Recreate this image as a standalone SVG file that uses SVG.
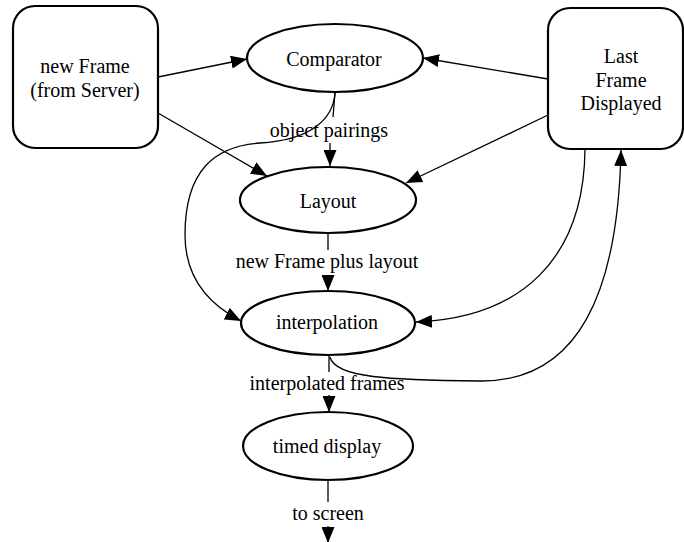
<svg xmlns="http://www.w3.org/2000/svg" width="684" height="542" viewBox="0 0 684 542">
<style>
text{font-family:"Liberation Serif","Times New Roman",serif;font-size:20px;fill:#000;text-anchor:middle}
.n{fill:#fff;stroke:#000;stroke-width:2.2}
.e{fill:none;stroke:#000;stroke-width:1.3}
</style>
<defs>
<marker id="ah" markerUnits="userSpaceOnUse" markerWidth="17" markerHeight="13" refX="16" refY="6.5" orient="auto" viewBox="0 0 17 13">
<path d="M0,0 L16,6.5 L0,13 z" fill="#000"/>
</marker>
</defs>
<rect width="684" height="542" fill="#fff"/>
<g id="connectors">
<path class="e" d="M158,77 L247,59" marker-end="url(#ah)"/>
<path class="e" d="M158,113 L267,176" marker-end="url(#ah)"/>
<path class="e" d="M335,93 L333,117 M330,143 L330,166" marker-end="url(#ah)"/>
<path class="e" d="M335,93 C333,120 310,140 260,143 C215,146 185,170 185,235 C185,280 210,305 241,321" marker-end="url(#ah)"/>
<path class="e" d="M548,79 L423,58" marker-end="url(#ah)"/>
<path class="e" d="M548,115 L406,183" marker-end="url(#ah)"/>
<path class="e" d="M585,149 C584,260 520,318 416,322" marker-end="url(#ah)"/>
<path class="e" d="M330,357 C335,378 390,380 480,381 C580,382 618,290 621,150" marker-end="url(#ah)"/>
<path class="e" d="M328,233 L328,250 M328,275 L328,291" marker-end="url(#ah)"/>
<path class="e" d="M329,355 L329,372 M329,395 L329,412" marker-end="url(#ah)"/>
<path class="e" d="M328,481 L328,502 M328,526 L328,543" marker-end="url(#ah)"/>
<text x="329" y="137">object pairings</text>
<text x="327" y="268">new Frame plus layout</text>
<text x="327" y="390">interpolated frames</text>
<text x="328" y="520">to screen</text>
</g>
<g id="newFrame">
<rect class="n" x="13" y="6" width="145" height="142" rx="22"/>
<text x="85" y="73">new Frame</text>
<text x="85" y="97">(from Server)</text>
</g>
<g id="lastFrame">
<rect class="n" x="548" y="8" width="135" height="141" rx="22"/>
<text x="621" y="63">Last</text>
<text x="621" y="87">Frame</text>
<text x="621" y="110">Displayed</text>
</g>
<g id="comparator">
<ellipse class="n" cx="335" cy="58" rx="88" ry="34"/>
<text x="334" y="66">Comparator</text>
</g>
<g id="layout">
<ellipse class="n" cx="328" cy="200" rx="88" ry="33"/>
<text x="328" y="208">Layout</text>
</g>
<g id="interpolation">
<ellipse class="n" cx="328" cy="323" rx="87" ry="32"/>
<text x="327" y="329">interpolation</text>
</g>
<g id="timedDisplay">
<ellipse class="n" cx="328" cy="446" rx="85" ry="34"/>
<text x="327" y="453">timed display</text>
</g>
</svg>
